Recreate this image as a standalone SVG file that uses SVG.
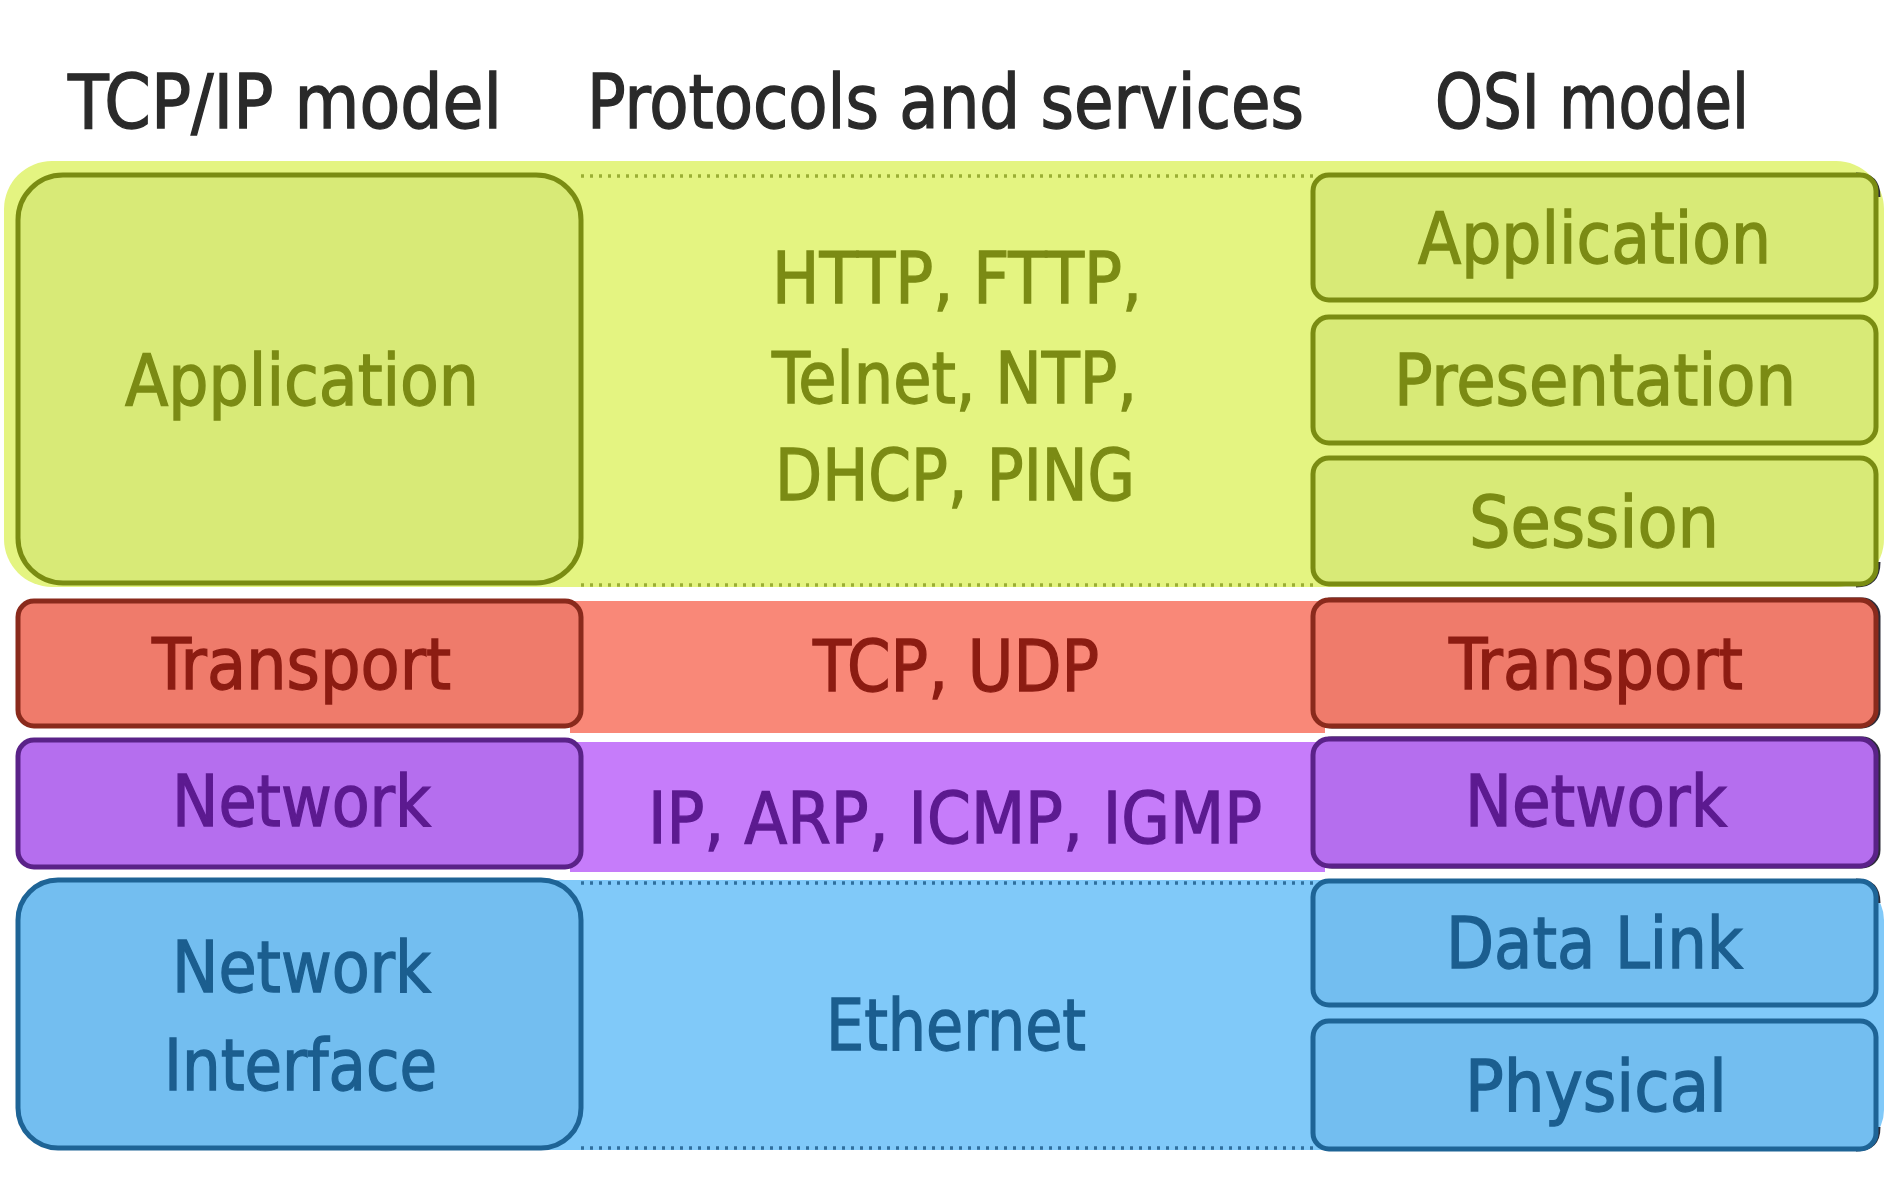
<svg xmlns="http://www.w3.org/2000/svg" width="1898" height="1194" viewBox="0 0 1898 1194">
<style>
text { font-family: "DejaVu Sans", "Liberation Sans", sans-serif; font-stretch: condensed; font-size: 72px; stroke-width: 1.3px; }
.hdr { fill: #2a2a2a; stroke: #2a2a2a; font-size: 74px; }
.tg { fill: #7b8b14; stroke: #7b8b14; }
.tr { fill: #8c1c12; stroke: #8c1c12; }
.tp { fill: #5c1a90; stroke: #5c1a90; }
.tb { fill: #1b5e8f; stroke: #1b5e8f; }
.gbox { fill: #d8ea77; stroke: #7a8c12; stroke-width: 5; }
.rbox { fill: #ef7b6b; stroke: #8a2a1c; stroke-width: 5; }
.pbox { fill: #b56eee; stroke: #5a2288; stroke-width: 5; }
.bbox { fill: #73bef0; stroke: #1e6496; stroke-width: 5; }
.shadow { fill: none; stroke: #2c2c38; stroke-width: 5; }
.dotg { stroke: #9aae34; stroke-width: 3.5; stroke-dasharray: 3 6; fill: none; }
.dotb { stroke: #2f6f9e; stroke-width: 3.5; stroke-dasharray: 3 6; fill: none; }
.dotw { stroke: #ffffff; stroke-width: 3; stroke-dasharray: 4 4; fill: none; }
</style>
<rect width="1898" height="1194" fill="#ffffff"/>

<g id="headers">
  <text class="hdr" x="68" y="128" textLength="434" lengthAdjust="spacingAndGlyphs">TCP/IP model</text>
  <text class="hdr" x="587" y="128" textLength="717" lengthAdjust="spacingAndGlyphs">Protocols and services</text>
  <text class="hdr" x="1435" y="128" textLength="314" lengthAdjust="spacingAndGlyphs">OSI model</text>
</g>

<g id="bands">
  <rect x="4" y="161" width="1880" height="426" rx="48" fill="#e4f481"/>
  <rect x="570" y="601" width="755" height="132" fill="#f98878"/>
  <line x1="570" y1="735" x2="1325" y2="735" class="dotw"/>
  <rect x="570" y="742" width="755" height="130" fill="#c67cfa"/>
  <rect x="300" y="880" width="1584" height="270" rx="40" fill="#80c9f9"/>
  <line x1="581" y1="176" x2="1313" y2="176" class="dotg"/>
  <line x1="581" y1="585" x2="1313" y2="585" class="dotg"/>
  <line x1="581" y1="883" x2="1313" y2="883" class="dotb"/>
  <line x1="581" y1="1148" x2="1313" y2="1148" class="dotb"/>
</g>

<g id="tcp-application">
  <rect class="gbox" x="18" y="175" width="563" height="408" rx="45"/>
  <text class="tg" x="125" y="405" textLength="354" lengthAdjust="spacingAndGlyphs">Application</text>
</g>
<g id="tcp-transport">
  <rect class="rbox" x="18" y="601" width="563" height="125" rx="16"/>
  <text class="tr" x="152" y="689" textLength="299" lengthAdjust="spacingAndGlyphs">Transport</text>
</g>
<g id="tcp-network">
  <rect class="pbox" x="18" y="740" width="563" height="127" rx="16"/>
  <text class="tp" x="172" y="826" textLength="259" lengthAdjust="spacingAndGlyphs">Network</text>
</g>
<g id="tcp-network-interface">
  <rect class="bbox" x="18" y="880" width="563" height="268" rx="40"/>
  <text class="tb" x="172" y="992" textLength="259" lengthAdjust="spacingAndGlyphs">Network</text>
  <text class="tb" x="164" y="1090" textLength="273" lengthAdjust="spacingAndGlyphs">Interface</text>
</g>

<g id="proto-application">
  <text class="tg" x="772" y="303" textLength="370" lengthAdjust="spacingAndGlyphs">HTTP, FTTP,</text>
  <text class="tg" x="772" y="403" textLength="365" lengthAdjust="spacingAndGlyphs">Telnet, NTP,</text>
  <text class="tg" x="775" y="500" textLength="360" lengthAdjust="spacingAndGlyphs">DHCP, PING</text>
</g>
<g id="proto-transport">
  <text class="tr" x="813" y="691" textLength="286" lengthAdjust="spacingAndGlyphs">TCP, UDP</text>
</g>
<g id="proto-network">
  <text class="tp" x="648" y="843" textLength="614" lengthAdjust="spacingAndGlyphs">IP, ARP, ICMP, IGMP</text>
</g>
<g id="proto-link">
  <text class="tb" x="826" y="1050" textLength="260" lengthAdjust="spacingAndGlyphs">Ethernet</text>
</g>

<g id="osi-shadows">
  <path class="shadow" d="M1856,175 Q1878,175 1878,197"/>
  <path class="shadow" d="M1878,562 Q1878,585 1856,585"/>
  <rect class="shadow" x="1316" y="600" width="562" height="126" rx="16"/>
  <rect class="shadow" x="1316" y="739" width="562" height="127" rx="16"/>
  <path class="shadow" d="M1856,881 Q1878,881 1878,903"/>
  <path class="shadow" d="M1878,1127 Q1878,1149 1856,1149"/>
</g>
<g id="osi-application">
  <rect class="gbox" x="1313" y="175" width="563" height="125" rx="16"/>
  <text class="tg" x="1418" y="263" textLength="353" lengthAdjust="spacingAndGlyphs">Application</text>
</g>
<g id="osi-presentation">
  <rect class="gbox" x="1313" y="317" width="563" height="126" rx="16"/>
  <text class="tg" x="1394" y="405" textLength="402" lengthAdjust="spacingAndGlyphs">Presentation</text>
</g>
<g id="osi-session">
  <rect class="gbox" x="1313" y="458" width="563" height="126" rx="16"/>
  <text class="tg" x="1469" y="547" textLength="250" lengthAdjust="spacingAndGlyphs">Session</text>
</g>
<g id="osi-transport">
  <rect class="rbox" x="1313" y="600" width="563" height="126" rx="16"/>
  <text class="tr" x="1449" y="689" textLength="294" lengthAdjust="spacingAndGlyphs">Transport</text>
</g>
<g id="osi-network">
  <rect class="pbox" x="1313" y="739" width="563" height="127" rx="16"/>
  <text class="tp" x="1465" y="826" textLength="262" lengthAdjust="spacingAndGlyphs">Network</text>
</g>
<g id="osi-data-link">
  <rect class="bbox" x="1313" y="881" width="563" height="124" rx="16"/>
  <text class="tb" x="1446" y="968" textLength="297" lengthAdjust="spacingAndGlyphs">Data Link</text>
</g>
<g id="osi-physical">
  <rect class="bbox" x="1313" y="1021" width="563" height="128" rx="16"/>
  <text class="tb" x="1465" y="1111" textLength="262" lengthAdjust="spacingAndGlyphs">Physical</text>
</g>
</svg>
